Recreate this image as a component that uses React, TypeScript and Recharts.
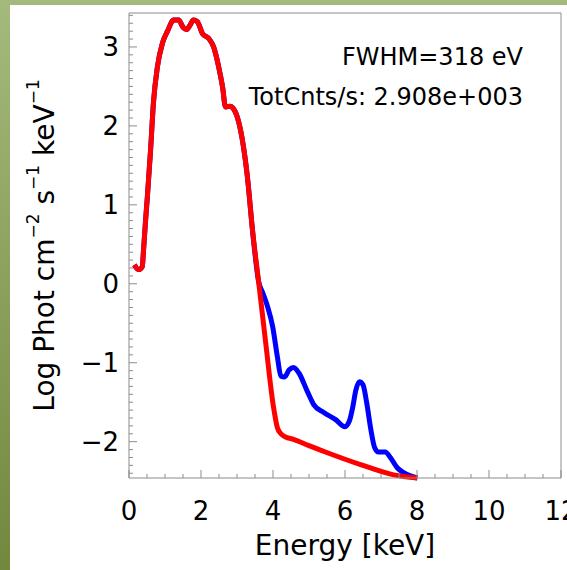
import { LineChart, Line, XAxis, YAxis } from "recharts";

// energy grid (keV) and log10 flux.
// below ~3.6 keV the continuum and the total spectrum coincide
const lowEnergy = [
  0.15, 0.27, 0.37, 0.4, 0.46, 0.51, 0.6, 0.68, 0.79, 0.93, 1.07, 1.24, 1.38,
  1.5, 1.6, 1.7, 1.79, 1.9, 2.04, 2.21, 2.35, 2.49, 2.6, 2.68, 2.8, 2.88, 3.01,
  3.15, 3.29, 3.43, 3.6,
];
const lowLogFlux = [
  0.24, 0.18, 0.22, 0.4, 0.8, 1.1, 1.7, 2.3, 2.75, 3.05, 3.2, 3.34, 3.34, 3.25,
  3.22, 3.28, 3.34, 3.32, 3.17, 3.11, 3.0, 2.75, 2.49, 2.24, 2.25, 2.23, 2.11,
  1.82, 1.35, 0.68, 0.03,
];

// continuum only (red)
const contEnergy = [3.8, 4.01, 4.12, 4.22, 4.35, 4.57, 5.0, 5.51, 6.43, 7.35, 8.01];
const contLogFlux = [-0.76, -1.55, -1.82, -1.9, -1.94, -1.97, -2.05, -2.14, -2.29, -2.42, -2.46];

// continuum + lines (blue)
const lineEnergy = [
  3.72, 3.85, 3.99, 4.12, 4.22, 4.32, 4.45, 4.57, 4.72, 4.95, 5.13, 5.41, 5.74,
  6.0, 6.12, 6.22, 6.3, 6.4, 6.5, 6.6, 6.72, 6.82, 6.93, 7.12, 7.26, 7.45, 7.62,
  7.8, 8.01,
];
const lineLogFlux = [
  -0.12, -0.29, -0.54, -0.92, -1.17, -1.18, -1.09, -1.06, -1.13, -1.36, -1.53,
  -1.63, -1.72, -1.81, -1.74, -1.55, -1.35, -1.24, -1.28, -1.5, -1.85, -2.07,
  -2.13, -2.13, -2.2, -2.33, -2.39, -2.43, -2.46,
];

const annotations = ["FWHM=318 eV", "TotCnts/s: 2.908e+003"];

const xTicks = Array.from({ length: 25 }, (_, i) => i * 0.5);
const yTicks = Array.from({ length: 59 }, (_, i) => (i - 24) / 10);

const AXIS = "#8c8c8c";
const FONT = "'DejaVu Sans', sans-serif";

const toPoints = (es: number[], vs: number[]) => es.map((e, i) => ({ e, v: vs[i] }));
const totalData = [...toPoints(lowEnergy, lowLogFlux), ...toPoints(lineEnergy, lineLogFlux)];
const contData = [...toPoints(lowEnergy, lowLogFlux), ...toPoints(contEnergy, contLogFlux)];

const isMult = (v: number, step: number) => Math.abs(v / step - Math.round(v / step)) < 1e-6;
const fmt = (v: number) => (v < 0 ? "\u2212" + Math.abs(v) : String(v));

function BottomTick({ x, y, payload }: any) {
  const major = isMult(payload.value, 2);
  return (
    <g>
      <line x1={x} y1={y} x2={x} y2={y - (major ? 8 : 4)} stroke={AXIS} />
      {major && (
        <text x={x} y={y + 42} textAnchor="middle" fontSize={26} fontFamily={FONT} fill="#000">
          {payload.value}
        </text>
      )}
    </g>
  );
}

function TopTick({ x, y, payload }: any) {
  const major = isMult(payload.value, 2);
  return <line x1={x} y1={y} x2={x} y2={y + (major ? 8 : 4)} stroke={AXIS} />;
}

function LeftTick({ x, y, payload }: any) {
  const major = isMult(payload.value, 1);
  return (
    <g>
      <line x1={x} y1={y} x2={x + (major ? 8 : 4)} y2={y} stroke={AXIS} />
      {major && (
        <text x={x - 10} y={y + 9} textAnchor="end" fontSize={26} fontFamily={FONT} fill="#000">
          {fmt(Math.round(payload.value))}
        </text>
      )}
    </g>
  );
}

function RightTick({ x, y, payload }: any) {
  const major = isMult(payload.value, 1);
  return <line x1={x} y1={y} x2={x - (major ? 8 : 4)} y2={y} stroke={AXIS} />;
}

function XTitle(props: any) {
  const vb = props.viewBox || { x: 129, y: 478, width: 432, height: 60 };
  return (
    <text x={vb.x + vb.width / 2} y={vb.y + 77} textAnchor="middle" fontSize={28} fontFamily={FONT} fill="#000">
      Energy [keV]
    </text>
  );
}

function YTitle(props: any) {
  const vb = props.viewBox || { x: 29, y: 13, width: 100, height: 465 };
  const cx = vb.x + 25;
  const cy = vb.y + vb.height / 2;
  return (
    <text
      transform={`translate(${cx},${cy}) rotate(-90)`}
      textAnchor="middle"
      fontSize={28}
      fontFamily={FONT}
      fill="#000"
    >
      Log Phot cm
      <tspan dy={-15} fontSize={17}>{"\u22122"}</tspan>
      <tspan dy={15}> s</tspan>
      <tspan dy={-15} fontSize={17}>{"\u22121"}</tspan>
      <tspan dy={15}> keV</tspan>
      <tspan dy={-15} fontSize={17}>{"\u22121"}</tspan>
    </text>
  );
}

export default function App() {
  return (
    <div
      style={{
        position: "absolute",
        left: 0,
        top: 0,
        width: 567,
        height: 570,
        overflow: "hidden",
        background: "linear-gradient(to bottom, #a4ba7c, #74873f)",
      }}
    >
      <div style={{ position: "absolute", left: 10, top: 5, right: 0, bottom: 0, background: "#fff" }} />
      <div style={{ position: "absolute", left: 0, top: 0 }}>
        <LineChart width={567} height={570} margin={{ top: 0, right: 0, bottom: 32, left: 29 }}>
          <XAxis
            xAxisId="bottom"
            dataKey="e"
            type="number"
            domain={[0, 12]}
            ticks={xTicks}
            interval={0}
            height={60}
            tickSize={0}
            tickMargin={0}
            tickLine={false}
            axisLine={{ stroke: AXIS }}
            tick={<BottomTick />}
            label={<XTitle />}
          />
          <XAxis
            xAxisId="top"
            orientation="top"
            dataKey="e"
            type="number"
            domain={[0, 12]}
            ticks={xTicks}
            interval={0}
            height={13}
            tickSize={0}
            tickMargin={0}
            tickLine={false}
            axisLine={{ stroke: AXIS }}
            tick={<TopTick />}
          />
          <YAxis
            yAxisId="left"
            type="number"
            domain={[-2.46, 3.43]}
            ticks={yTicks}
            interval={0}
            width={100}
            tickSize={0}
            tickMargin={0}
            tickLine={false}
            axisLine={{ stroke: AXIS }}
            tick={<LeftTick />}
            label={<YTitle />}
          />
          <YAxis
            yAxisId="right"
            orientation="right"
            type="number"
            domain={[-2.46, 3.43]}
            ticks={yTicks}
            interval={0}
            width={6}
            tickSize={0}
            tickMargin={0}
            tickLine={false}
            axisLine={{ stroke: AXIS }}
            tick={<RightTick />}
          />
          <Line
            xAxisId="bottom"
            yAxisId="left"
            data={totalData}
            dataKey="v"
            type="monotone"
            stroke="#0000ff"
            strokeWidth={5}
            dot={false}
            isAnimationActive={false}
          />
          <Line
            xAxisId="bottom"
            yAxisId="left"
            data={contData}
            dataKey="v"
            type="monotone"
            stroke="#ff0000"
            strokeWidth={5}
            dot={false}
            isAnimationActive={false}
          />
        </LineChart>
      </div>
      <svg width={567} height={570} style={{ position: "absolute", left: 0, top: 0, pointerEvents: "none" }}>
        {annotations.map((t, i) => (
          <text key={t} x={523} y={65 + i * 40} textAnchor="end" fontSize={24} fontFamily={FONT} fill="#000">
            {t}
          </text>
        ))}
      </svg>
    </div>
  );
}
